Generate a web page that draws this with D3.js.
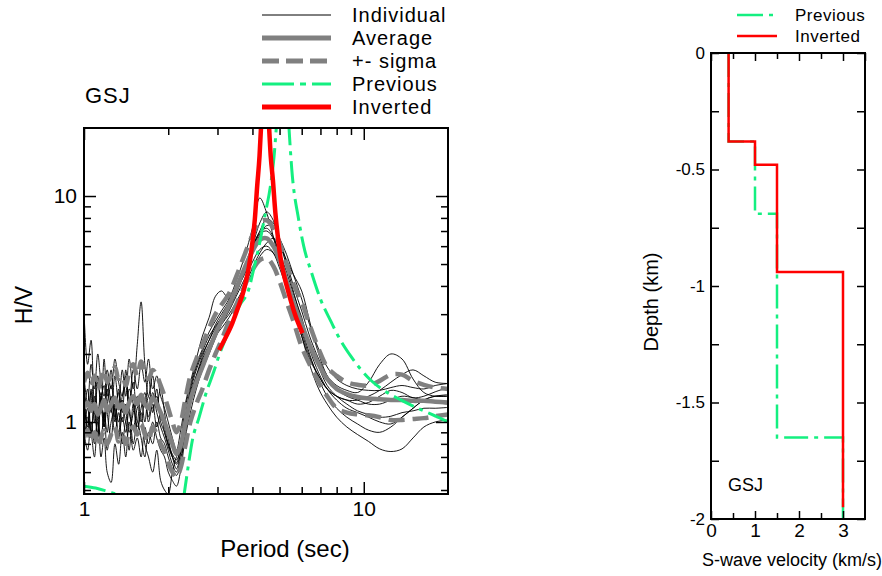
<!DOCTYPE html>
<meta charset="utf-8">
<script src="https://d3js.org/d3.v7.min.js"></script>
<style>
  body { margin: 0; background: #fff; }
  text { font-family: 'Liberation Sans', Arial, sans-serif; fill: #000; }
</style>
<body>
<div id="chart"></div>
<script>
// ---- H/V spectra (periods in sec) ----
var periods = [
  1.00,1.03,1.06,1.09,1.12,1.15,1.18,1.21,1.25,1.29,
  1.33,1.37,1.41,1.45,1.50,1.55,1.60,1.65,1.70,1.76,
  1.82,1.88,1.94,2.00,2.07,2.14,2.21,2.30,2.40,2.52,
  2.65,2.80,2.95,3.10,3.30,3.50,3.75,4.00,4.25,4.50,
  4.75,5.00,5.30,5.60,6.00,6.40,6.90,7.40,8.00,8.70,
  9.50,10.4,11.4,12.5,13.7,15.0,16.4,18.0,20.0
];

var ind1 = [
  3.1,1.8,2.3,1.2,1.6,1.1,1.9,1.3,1.7,1.0,
  1.4,1.1,1.7,1.2,1.5,1.0,1.3,1.2,1.6,1.1,
  1.4,1.0,0.9,0.78,0.7,0.66,0.8,1.15,1.45,1.8,
  2.1,2.5,2.8,3.1,3.5,4.2,5.4,7.2,9.8,8.4,
  6.6,5.1,4.0,3.1,2.4,1.9,1.6,1.4,1.3,1.25,
  1.2,1.22,1.3,1.38,1.35,1.28,1.3,1.36,1.42
];
var ind2 = [
  1.3,0.9,1.4,1.0,1.5,1.2,0.95,1.4,1.1,1.6,
  1.2,1.7,1.3,1.9,1.4,2.2,3.4,1.8,1.3,1.6,
  1.2,1.4,1.1,0.85,0.7,0.62,0.72,1.0,1.35,1.7,
  2.0,2.3,2.7,3.0,3.4,3.9,4.8,5.9,7.0,7.9,
  7.6,6.4,5.1,4.0,3.1,2.4,1.9,1.6,1.45,1.38,
  1.35,1.5,1.8,2.0,1.9,1.55,1.35,1.3,1.3
];
var ind3 = [
  0.9,0.75,1.0,0.8,1.1,0.7,0.85,0.6,0.54,0.8,
  0.65,0.9,0.7,1.0,0.75,0.85,0.7,0.95,0.8,1.0,
  0.85,0.75,0.7,0.6,0.55,0.52,0.6,0.85,1.1,1.4,
  1.7,2.0,2.35,2.7,3.1,3.6,4.3,5.1,5.8,6.0,
  5.6,4.8,3.9,3.1,2.4,1.8,1.4,1.2,1.05,0.95,
  0.88,0.82,0.76,0.74,0.76,0.85,0.95,1.0,1.02
];
var ind4 = [
  1.1,1.4,0.9,1.2,0.85,1.3,1.0,1.5,1.2,0.9,
  1.1,0.8,1.0,0.75,1.2,0.9,1.1,0.8,0.7,0.6,
  0.75,0.55,0.5,0.48,0.6,0.7,0.75,0.95,1.3,1.6,
  1.95,2.3,2.6,2.9,3.2,3.7,4.6,5.7,6.8,7.0,
  6.5,5.6,4.6,3.7,2.9,2.2,1.75,1.45,1.3,1.2,
  1.12,1.08,1.05,1.06,1.1,1.12,1.15,1.15,1.16
];
var ind5 = [
  1.6,1.2,1.8,1.4,2.0,1.5,1.3,1.7,1.4,1.9,
  1.5,1.3,1.6,1.2,1.7,1.4,1.8,1.5,1.9,1.4,
  1.6,1.3,1.15,1.0,0.85,0.75,0.9,1.2,1.5,1.9,
  2.4,2.9,3.6,3.8,3.5,3.9,4.5,5.6,6.7,7.4,
  7.3,6.5,5.5,4.5,3.5,2.7,2.1,1.75,1.55,1.45,
  1.4,1.38,1.38,1.42,1.45,1.42,1.4,1.45,1.48
];
var ind6 = [
  0.95,1.15,0.85,1.3,1.0,0.8,1.1,0.9,1.3,1.05,
  1.35,1.0,1.2,0.9,1.1,1.3,1.0,1.25,1.05,1.35,
  1.1,0.95,0.85,0.75,0.65,0.6,0.68,0.9,1.2,1.55,
  1.9,2.2,2.5,2.8,3.2,3.8,4.7,6.0,7.6,8.5,
  7.8,6.3,4.9,3.8,2.8,2.1,1.65,1.4,1.25,1.15,
  1.1,1.05,1.0,0.98,1.05,1.15,1.25,1.3,1.3
];
var ind7 = [
  1.2,0.95,1.35,1.1,0.9,1.25,1.45,1.1,0.85,1.2,
  1.0,1.3,1.5,1.1,0.95,1.15,1.25,1.0,1.3,1.15,
  1.3,1.05,0.95,0.8,0.72,0.68,0.75,1.0,1.3,1.6,
  1.85,2.15,2.4,2.7,3.0,3.4,4.0,4.8,5.6,6.2,
  6.5,6.0,5.2,4.5,3.8,2.8,2.0,1.6,1.4,1.3,
  1.25,1.2,1.2,1.25,1.3,1.28,1.25,1.22,1.2
];
var ind8 = [
  1.4,1.0,1.2,1.6,1.1,1.35,0.95,1.2,1.45,1.1,
  0.9,1.25,1.0,1.4,1.2,0.95,1.15,1.35,1.0,1.2,
  0.95,1.1,0.9,0.8,0.7,0.65,0.72,1.05,1.4,1.75,
  2.05,2.4,2.65,2.9,3.3,3.85,4.9,6.0,6.9,7.2,
  6.6,5.5,4.3,3.3,2.5,1.95,1.6,1.4,1.3,1.25,
  1.25,1.3,1.38,1.5,1.62,1.7,1.6,1.5,1.48
];
var ind9 = [
  0.8,1.05,0.9,0.7,1.0,0.85,1.1,0.75,1.0,1.15,
  0.85,1.05,0.9,1.15,0.8,1.0,0.85,0.7,0.9,0.8,
  1.0,0.85,0.8,0.7,0.62,0.58,0.65,0.9,1.2,1.5,
  1.8,2.1,2.4,2.6,2.9,3.3,3.9,4.6,5.4,5.8,
  5.6,5.0,4.2,3.4,2.6,2.0,1.55,1.3,1.15,1.05,
  0.98,0.92,0.9,0.95,1.05,1.15,1.25,1.3,1.32
];

var average = [
  1.15,1.22,1.12,1.2,1.08,1.15,1.25,1.12,1.2,1.28,
  1.15,1.2,1.1,1.22,1.3,1.2,1.32,1.2,1.15,1.28,
  1.2,1.1,1.0,0.9,0.8,0.72,0.78,0.98,1.25,1.5,
  1.75,2.1,2.45,2.8,3.3,3.9,4.8,5.7,6.4,6.5,
  6.0,5.2,4.2,3.4,2.7,2.2,1.8,1.55,1.4,1.33,
  1.29,1.27,1.26,1.25,1.25,1.24,1.24,1.23,1.22
];
var sigmaPlus = [
  1.5,1.65,1.45,1.6,1.4,1.55,1.7,1.5,1.6,1.75,
  1.55,1.6,1.45,1.65,1.8,1.6,1.85,1.65,1.55,1.7,
  1.6,1.45,1.3,1.15,1.0,0.9,0.98,1.25,1.6,1.9,
  2.2,2.6,3.0,3.3,3.7,4.4,5.5,6.7,7.7,7.8,
  7.2,6.2,5.0,4.1,3.4,2.7,2.1,1.75,1.6,1.5,
  1.46,1.45,1.52,1.62,1.62,1.52,1.46,1.42,1.4
];
var sigmaMinus = [
  0.85,0.92,0.82,0.9,0.78,0.85,0.92,0.8,0.88,0.95,
  0.82,0.88,0.8,0.9,0.95,0.88,0.98,0.88,0.82,0.95,
  0.88,0.8,0.74,0.66,0.6,0.57,0.62,0.78,1.0,1.2,
  1.4,1.7,2.0,2.3,2.8,3.3,4.0,4.7,5.2,5.3,
  4.9,4.2,3.4,2.8,2.15,1.8,1.5,1.3,1.15,1.1,
  1.08,1.07,1.05,1.02,1.02,1.03,1.04,1.06,1.08
];

// theoretical H/V, previous model (green)
var prevLowP  = [1.0, 1.1, 1.2, 1.3, 1.42];
var prevLowHV = [0.52, 0.51, 0.495, 0.48, 0.465];
var prevLeftP  = [2.27, 2.35, 2.44, 2.58, 2.73, 2.9, 3.04, 3.3, 3.58, 3.89, 4.05, 4.21, 4.45, 4.64, 4.78, 4.88];
var prevLeftHV = [0.46, 0.62, 0.83, 1.05, 1.34, 1.65, 1.97, 2.55, 3.24, 3.9, 4.8, 5.9, 8.4, 11.1, 15, 21];
var prevRightP  = [5.39, 5.53, 5.85, 6.1, 6.51, 7.0, 7.67, 8.1, 9.0, 10.6, 12.0, 13.6, 15.6, 17.5, 20];
var prevRightHV = [21, 13.1, 7.88, 6.0, 4.57, 3.5, 2.75, 2.4, 1.95, 1.53, 1.36, 1.25, 1.15, 1.08, 1.0];

// theoretical H/V, inverted model (red)
var invLeftP  = [3.04, 3.2, 3.39, 3.55, 3.73, 3.94, 4.08, 4.16, 4.24, 4.30];
var invLeftHV = [2.08, 2.35, 2.74, 3.2, 3.85, 5.4, 7.9, 11.1, 15, 21];
var invRightP  = [4.58, 4.65, 4.73, 4.83, 4.93, 5.03, 5.2, 5.39, 5.7, 6.04];
var invRightHV = [21, 15, 11.9, 8.44, 6.6, 5.41, 4.4, 3.72, 2.95, 2.47];

// ---- velocity profiles (km/s, depth in km) ----
var prevVs = [0.4, 1.0, 1.5, 3.0];
var prevZ  = [0, 0.38, 0.69, 1.65, 2.0];
var invVs  = [0.4, 1.0, 1.5, 3.0];
var invZ   = [0, 0.38, 0.48, 0.94, 1.95];

var legendLabels = ["Individual", "Average", "+- sigma", "Previous", "Inverted"];
var xMajor = [1, 10], xMinor = [2, 3, 4, 5, 6, 7, 8, 9];
var yMajor = [1, 10], yMinor = [0.5, 0.6, 0.7, 0.8, 0.9, 2, 3, 4, 5, 6, 7, 8, 9];
var vsTicks = [0, 1, 2, 3], vsMinor = [0.5, 1.5, 2.5];
var depthTicks = [0, -0.5, -1, -1.5, -2], depthMinor = [-0.25, -0.75, -1.25, -1.75];

var GREEN = "#14ef80", GRAY = "#808080";
var FONT = "'Liberation Sans', Arial, sans-serif";

var svg = d3.select("#chart").append("svg")
  .attr("width", 882).attr("height", 576);

// ================= left panel: H/V =================
var x = d3.scaleLog().domain([1, 20]).range([84, 448]);
var y = d3.scaleLog().domain([0.48, 20]).range([494, 128]);

svg.append("clipPath").attr("id", "clipL")
  .append("rect").attr("x", 84).attr("y", 128).attr("width", 364).attr("height", 366);

var plot = svg.append("g").attr("clip-path", "url(#clipL)");

var spec = d3.line()
  .x(function(d, i) { return x(periods[i]); })
  .y(function(d) { return y(d); })
  .curve(d3.curveCatmullRom.alpha(0.5));

var theo = d3.line()
  .x(function(d) { return x(d[0]); })
  .y(function(d) { return y(d[1]); })
  .curve(d3.curveMonotoneX);

[ind1, ind2, ind3, ind4, ind5, ind6, ind7, ind8, ind9].forEach(function(s) {
  plot.append("path").attr("d", spec(s))
    .attr("fill", "none").attr("stroke", "#000").attr("stroke-width", 0.9);
});
[sigmaPlus, sigmaMinus].forEach(function(s) {
  plot.append("path").attr("d", spec(s))
    .attr("fill", "none").attr("stroke", GRAY).attr("stroke-width", 4.5)
    .attr("stroke-dasharray", "16,8");
});
plot.append("path").attr("d", spec(average))
  .attr("fill", "none").attr("stroke", GRAY).attr("stroke-width", 4.5);

[[prevLowP, prevLowHV], [prevLeftP, prevLeftHV], [prevRightP, prevRightHV]].forEach(function(c) {
  plot.append("path").attr("d", theo(d3.zip(c[0], c[1])))
    .attr("fill", "none").attr("stroke", GREEN).attr("stroke-width", 3)
    .attr("stroke-dasharray", "22,6,4,6");
});
[[invLeftP, invLeftHV], [invRightP, invRightHV]].forEach(function(c) {
  plot.append("path").attr("d", theo(d3.zip(c[0], c[1])))
    .attr("fill", "none").attr("stroke", "red").attr("stroke-width", 4.5);
});

function styleAxis(g, size) {
  g.select(".domain").remove();
  g.selectAll("line").attr("stroke", "#000").attr("stroke-width", 1.5);
  g.selectAll("text").style("font-family", FONT).style("font-size", size + "px");
}

svg.append("g").attr("transform", "translate(0,494)")
  .call(d3.axisBottom(x).tickValues(xMajor).tickSize(-12).tickPadding(7).tickFormat(d3.format("d")))
  .call(styleAxis, 21);
svg.append("g").attr("transform", "translate(0,494)")
  .call(d3.axisBottom(x).tickValues(xMinor).tickSize(-7).tickFormat(""))
  .call(styleAxis, 21);
svg.append("g").attr("transform", "translate(0,128)")
  .call(d3.axisTop(x).tickValues(xMajor).tickSize(-12).tickFormat(""))
  .call(styleAxis, 21);
svg.append("g").attr("transform", "translate(0,128)")
  .call(d3.axisTop(x).tickValues(xMinor).tickSize(-7).tickFormat(""))
  .call(styleAxis, 21);
svg.append("g").attr("transform", "translate(84,0)")
  .call(d3.axisLeft(y).tickValues(yMajor).tickSize(-12).tickPadding(7).tickFormat(d3.format("d")))
  .call(styleAxis, 21);
svg.append("g").attr("transform", "translate(84,0)")
  .call(d3.axisLeft(y).tickValues(yMinor).tickSize(-7).tickFormat(""))
  .call(styleAxis, 21);
svg.append("g").attr("transform", "translate(448,0)")
  .call(d3.axisRight(y).tickValues(yMajor).tickSize(-12).tickFormat(""))
  .call(styleAxis, 21);
svg.append("g").attr("transform", "translate(448,0)")
  .call(d3.axisRight(y).tickValues(yMinor).tickSize(-7).tickFormat(""))
  .call(styleAxis, 21);

svg.append("rect").attr("x", 84).attr("y", 128).attr("width", 364).attr("height", 366)
  .attr("fill", "none").attr("stroke", "#000").attr("stroke-width", 2);

svg.append("text").attr("x", 285).attr("y", 557).attr("text-anchor", "middle")
  .style("font-size", "24px").text("Period (sec)");
svg.append("text").attr("transform", "translate(32,305) rotate(-90)").attr("text-anchor", "middle")
  .style("font-size", "23px").text("H/V");
svg.append("text").attr("x", 85).attr("y", 103)
  .style("font-size", "22px").style("letter-spacing", "1px").text("GSJ");

// legend (left)
var legStyles = [
  { stroke: "#000", width: 1, dash: null },
  { stroke: GRAY, width: 5, dash: null },
  { stroke: GRAY, width: 5, dash: "17,7" },
  { stroke: GREEN, width: 3, dash: "32,6,6,6" },
  { stroke: "red", width: 5, dash: null }
];
legendLabels.forEach(function(lab, i) {
  var yy = 15 + i * 23;
  svg.append("line").attr("x1", 262).attr("x2", 331).attr("y1", yy).attr("y2", yy)
    .attr("stroke", legStyles[i].stroke).attr("stroke-width", legStyles[i].width)
    .attr("stroke-dasharray", legStyles[i].dash);
  svg.append("text").attr("x", 352).attr("y", yy + 7).style("font-size", "20px")
    .style("letter-spacing", "1px").text(lab);
});

// ================= right panel: Vs profile =================
var vx = d3.scaleLinear().domain([0, 3.5]).range([711, 865]);
var vy = d3.scaleLinear().domain([0, -2]).range([53, 519]);

function steps(vs, z) {
  var pts = [];
  vs.forEach(function(v, i) { pts.push([v, -z[i]], [v, -z[i + 1]]); });
  return pts;
}
var prof = d3.line().x(function(d) { return vx(d[0]); }).y(function(d) { return vy(d[1]); });

svg.append("path").attr("d", prof(steps(prevVs, prevZ)))
  .attr("fill", "none").attr("stroke", GREEN).attr("stroke-width", 2.5)
  .attr("stroke-dasharray", "24,6,4,6");
svg.append("path").attr("d", prof(steps(invVs, invZ)))
  .attr("fill", "none").attr("stroke", "red").attr("stroke-width", 2.5);

svg.append("g").attr("transform", "translate(0,519)")
  .call(d3.axisBottom(vx).tickValues(vsTicks).tickSize(-8).tickPadding(5).tickFormat(d3.format("d")))
  .call(styleAxis, 19);
svg.append("g").attr("transform", "translate(0,519)")
  .call(d3.axisBottom(vx).tickValues(vsMinor).tickSize(-6).tickFormat(""))
  .call(styleAxis, 19);
svg.append("g").attr("transform", "translate(0,53)")
  .call(d3.axisTop(vx).tickValues(vsTicks.concat([3.5])).tickSize(-8).tickFormat(""))
  .call(styleAxis, 19);
svg.append("g").attr("transform", "translate(0,53)")
  .call(d3.axisTop(vx).tickValues(vsMinor).tickSize(-6).tickFormat(""))
  .call(styleAxis, 19);
svg.append("g").attr("transform", "translate(711,0)")
  .call(d3.axisLeft(vy).tickValues(depthTicks.concat(depthMinor)).tickSize(-8).tickPadding(6)
    .tickFormat(function(d) { return depthTicks.indexOf(d) >= 0 ? String(d) : ""; }))
  .call(styleAxis, 17);
svg.append("g").attr("transform", "translate(865,0)")
  .call(d3.axisRight(vy).tickValues(depthTicks.concat(depthMinor)).tickSize(-8).tickFormat(""))
  .call(styleAxis, 17);

svg.append("rect").attr("x", 711).attr("y", 53).attr("width", 154).attr("height", 466)
  .attr("fill", "none").attr("stroke", "#000").attr("stroke-width", 2);

svg.append("text").attr("x", 792).attr("y", 566).attr("text-anchor", "middle")
  .style("font-size", "18px").text("S-wave velocity (km/s)");
svg.append("text").attr("transform", "translate(658,302) rotate(-90)").attr("text-anchor", "middle")
  .style("font-size", "20px").text("Depth (km)");
svg.append("text").attr("x", 728).attr("y", 491)
  .style("font-size", "18px").text("GSJ");

// legend (right)
svg.append("line").attr("x1", 737).attr("x2", 777).attr("y1", 15).attr("y2", 15)
  .attr("stroke", GREEN).attr("stroke-width", 2.5).attr("stroke-dasharray", "26,6,4,6");
svg.append("text").attr("x", 795).attr("y", 21).style("font-size", "17px")
  .style("letter-spacing", "0.5px").text("Previous");
svg.append("line").attr("x1", 737).attr("x2", 777).attr("y1", 36).attr("y2", 36)
  .attr("stroke", "red").attr("stroke-width", 2.5);
svg.append("text").attr("x", 795).attr("y", 42).style("font-size", "17px")
  .style("letter-spacing", "0.5px").text("Inverted");
</script>
</body>
